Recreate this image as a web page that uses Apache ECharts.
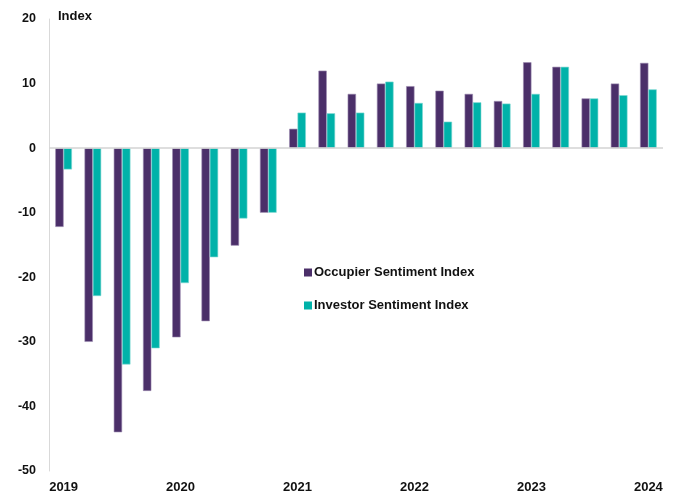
<!DOCTYPE html>
<html><head><meta charset="utf-8">
<script src="https://cdn.jsdelivr.net/npm/echarts@6/dist/echarts.min.js"></script>
<style>html,body{margin:0;padding:0;background:#fff}#c{width:677px;height:497px}</style>
</head><body><div id="c"></div>
<script>
const quarters = [
  "2019 Q1","2019 Q2","2019 Q3","2019 Q4",
  "2020 Q1","2020 Q2","2020 Q3","2020 Q4",
  "2021 Q1","2021 Q2","2021 Q3","2021 Q4",
  "2022 Q1","2022 Q2","2022 Q3","2022 Q4",
  "2023 Q1","2023 Q2","2023 Q3","2023 Q4",
  "2024 Q1"
];
const occupier = [-12.2,-30.0,-44.0,-37.6,-29.3,-26.8,-15.1,-10.0,3.0,12.0,8.4,10.0,9.6,8.9,8.4,7.3,13.3,12.6,7.7,10.0,13.2];
const investor = [-3.3,-22.9,-33.5,-31.0,-20.9,-16.9,-10.9,-10.0,5.5,5.4,5.5,10.3,7.0,4.1,7.1,6.9,8.4,12.6,7.7,8.2,9.1];
const yTicks = [-50,-40,-30,-20,-10,0,10,20];

const chart = echarts.init(document.getElementById('c'), null, {renderer:'canvas'});
const font = 'Liberation Sans, Arial, sans-serif';
chart.setOption({
  animation:false,
  backgroundColor:'#fff',
  grid:{left:49,right:14,top:19,bottom:26},
  legend:{
    orient:'vertical', left:299, top:261, itemWidth:8, itemHeight:8, itemGap:20,
    icon:'rect',
    itemStyle:{borderWidth:0},
    textStyle:{fontFamily:font,fontWeight:'bold',fontSize:13,color:'#111',padding:[0,0,0,-3]},
    data:['Occupier Sentiment Index','Investor Sentiment Index']
  },
  graphic:[{type:'text',left:58,top:10,style:{text:'Index',font:'bold 13px '+font,fill:'#111'}}],
  xAxis:{
    type:'category', data:quarters, boundaryGap:true,
    axisLine:{show:false}, axisTick:{show:false},
    axisLabel:{
      interval:0, margin:10,
      fontFamily:font,fontWeight:'bold',fontSize:13,color:'#111',
      formatter:function(v){return v.endsWith('Q1')?v.slice(0,4):'';}
    }
  },
  yAxis:{
    type:'value', min:yTicks[0], max:yTicks[yTicks.length-1], interval:10,
    axisLine:{show:true,lineStyle:{color:'#d9d9d9',width:1}},
    axisTick:{show:false}, splitLine:{show:false},
    axisLabel:{margin:13,fontFamily:font,fontWeight:'bold',fontSize:12.5,color:'#111'}
  },
  series:[
    {name:'Occupier Sentiment Index',type:'bar',data:occupier,barGap:'0%',barCategoryGap:'43%',
     itemStyle:{color:'#4b2f69',borderColor:'#9c8bb0',borderWidth:0.6},
     markLine:{silent:true,symbol:'none',label:{show:false},
       lineStyle:{color:'#d3d3d3',width:1.5,type:'solid'},data:[{yAxis:0}]}},
    {name:'Investor Sentiment Index',type:'bar',data:investor,barGap:'0%',barCategoryGap:'43%',
     itemStyle:{color:'#00b2a9',borderColor:'#7fd8d3',borderWidth:0.6}}
  ]
});
</script></body></html>
